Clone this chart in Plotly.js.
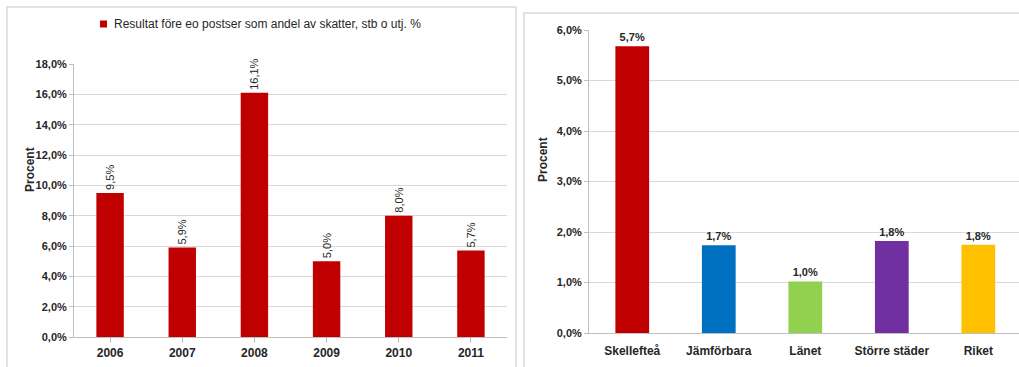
<!DOCTYPE html>
<html>
<head>
<meta charset="utf-8">
<script src="https://cdn.plot.ly/plotly-3.0.1.min.js"></script>
<style>html,body{margin:0;padding:0;background:#fff;}#chart{width:1019px;height:367px;}</style>
</head>
<body>
<div id="chart"></div>
<script>
// Left chart data
const years = ['2006', '2007', '2008', '2009', '2010', '2011'];
const resultat = [9.5, 5.9, 16.1, 5.0, 8.0, 5.7];
const resultatLabels = ['9,5%', '5,9%', '16,1%', '5,0%', '8,0%', '5,7%'];
const seriesName = 'Resultat före eo postser som andel av skatter, stb o utj. %';

// Right chart data
const regions = ['Skellefteå', 'Jämförbara', 'Länet', 'Större städer', 'Riket'];
const regionValues = [5.68, 1.74, 1.02, 1.82, 1.75];
const regionLabels = ['5,7%', '1,7%', '1,0%', '1,8%', '1,8%'];
const regionColors = ['#C00000', '#0070C0', '#92D050', '#7030A0', '#FFC000'];

const W = 1019, H = 367;
const px = v => v / W;
const py = v => 1 - v / H;
const font = 'Liberation Sans, Arial, sans-serif';
const txt = '#262626';

const traces = [
  {
    type: 'bar', x: years, y: resultat, name: seriesName,
    marker: {color: '#C00000'}, width: 0.38,
    text: resultatLabels, textposition: 'outside', textangle: -90, constraintext: 'none',
    textfont: {size: 11, color: txt, family: font},
    cliponaxis: false, xaxis: 'x', yaxis: 'y', showlegend: false
  },
  {
    type: 'bar', x: regions, y: regionValues, name: 'Jämförelse',
    marker: {color: regionColors}, width: 0.39,
    text: regionLabels, textposition: 'outside', textangle: 0, constraintext: 'none',
    textfont: {size: 11, color: txt, family: font, weight: 'bold'},
    cliponaxis: false, xaxis: 'x2', yaxis: 'y2', showlegend: false
  }
];

const axCommon = {
  showline: true, linecolor: '#bfbfbf', linewidth: 1,
  tickfont: {size: 12, color: txt, family: font, weight: 'bold'},
  fixedrange: true
};

const layout = {
  width: W, height: H,
  margin: {l: 0, r: 0, t: 0, b: 0},
  paper_bgcolor: '#fff', plot_bgcolor: '#fff',
  separators: ', ',
  font: {family: font, color: txt},
  showlegend: false,
  xaxis: Object.assign({}, axCommon, {
    domain: [px(74), px(507)], anchor: 'y',
    ticks: 'outside', tickson: 'boundaries', ticklen: 5, tickcolor: '#bfbfbf',
    showgrid: false
  }),
  yaxis: Object.assign({}, axCommon, {
    domain: [1 - 337 / H, 1 - 64 / H], anchor: 'x',
    range: [0, 18], dtick: 2, tickformat: '.1f', ticksuffix: '%',
    tickfont: {size: 11, color: txt, family: font, weight: 'bold'},
    showgrid: true, gridcolor: '#d9d9d9', gridwidth: 1,
    ticks: 'outside', ticklen: 4, tickcolor: '#bfbfbf', zeroline: false
  }),
  xaxis2: Object.assign({}, axCommon, {
    domain: [px(589), 1], anchor: 'y2', range: [-0.5, 4.47],
    ticks: '', showgrid: false, ticklabelstandoff: 7
  }),
  yaxis2: Object.assign({}, axCommon, {
    domain: [1 - 333 / H, 1 - 30 / H], anchor: 'x2',
    range: [0, 6], dtick: 1, tickformat: '.1f', ticksuffix: '%',
    tickfont: {size: 11, color: txt, family: font, weight: 'bold'},
    showgrid: true, gridcolor: '#d9d9d9', gridwidth: 1,
    ticks: 'outside', ticklen: 4, tickcolor: '#bfbfbf', zeroline: false
  }),
  annotations: [
    {text: seriesName, xref: 'paper', yref: 'paper', x: px(112), y: py(24),
     xanchor: 'left', yanchor: 'middle', showarrow: false,
     font: {size: 12, color: txt, family: font}},
    {text: 'Procent', xref: 'paper', yref: 'paper', x: px(21), y: py(170),
     textangle: -90, showarrow: false, font: {size: 12, color: txt, family: font, weight: 'bold'}},
    {text: 'Procent', xref: 'paper', yref: 'paper', x: px(543), y: py(160),
     textangle: -90, showarrow: false, font: {size: 12, color: txt, family: font, weight: 'bold'}}
  ],
  shapes: [
    {type: 'rect', xref: 'paper', yref: 'paper', x0: px(7), x1: px(516), y0: -0.1, y1: py(7),
     line: {color: '#d9d9d9', width: 1.5}, fillcolor: 'rgba(0,0,0,0)', layer: 'below'},
    {type: 'rect', xref: 'paper', yref: 'paper', x0: px(524), x1: 1.1, y0: -0.1, y1: py(13),
     line: {color: '#d9d9d9', width: 1.5}, fillcolor: 'rgba(0,0,0,0)', layer: 'below'},
    {type: 'rect', xref: 'paper', yref: 'paper', x0: px(100), x1: px(107), y0: py(27.5), y1: py(20.5),
     line: {width: 0}, fillcolor: '#C00000'}
  ]
};

Plotly.newPlot('chart', traces, layout, {displayModeBar: false, staticPlot: true});
</script>
</body>
</html>
